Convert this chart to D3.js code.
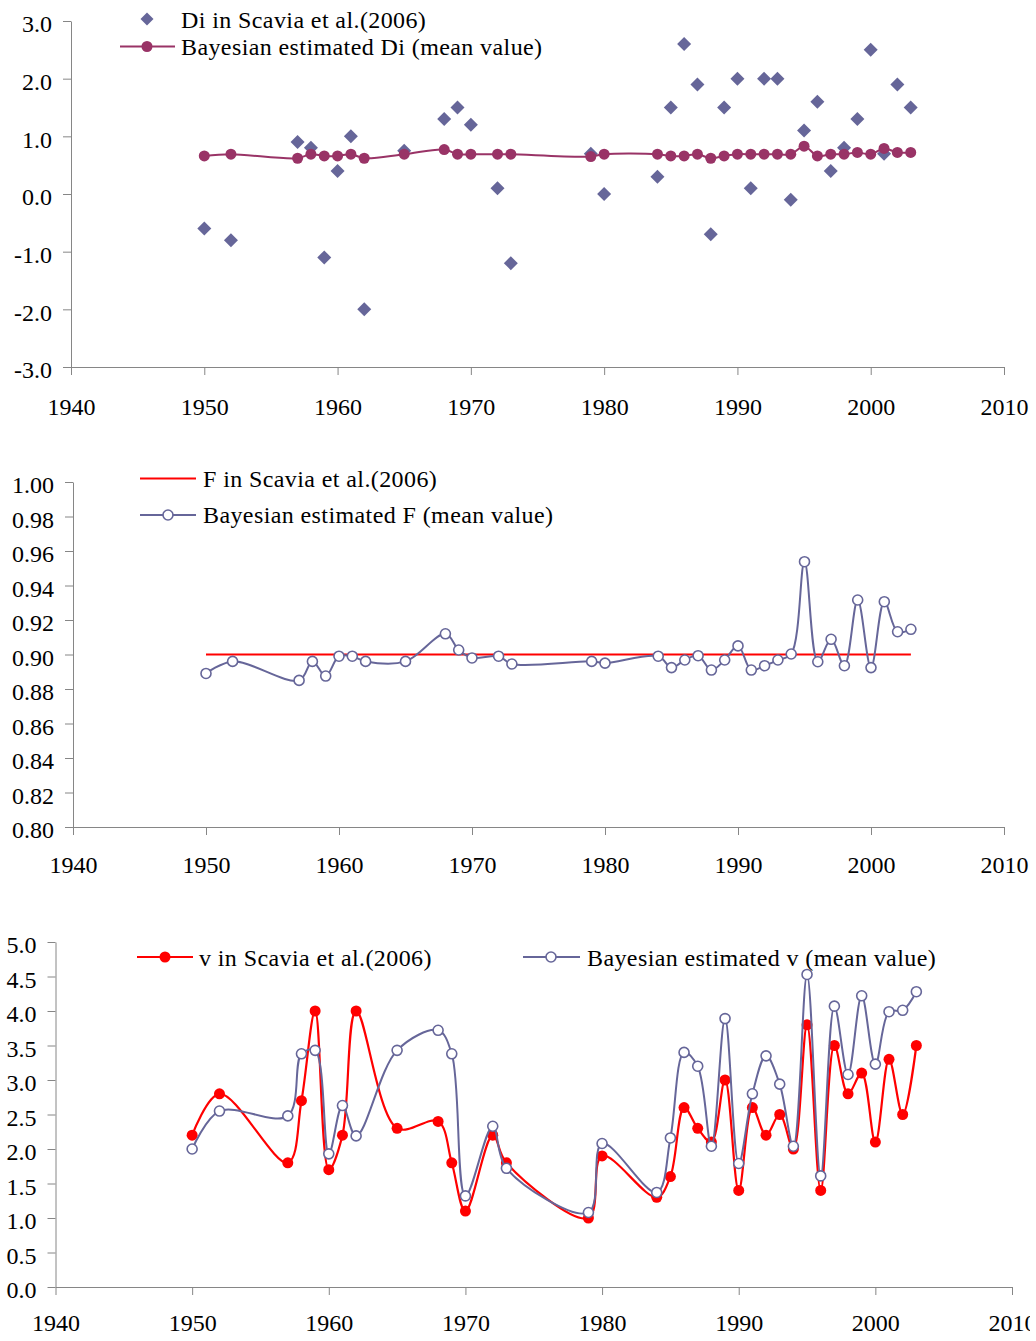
<!DOCTYPE html>
<html>
<head>
<meta charset="utf-8">
<script src="https://cdn.jsdelivr.net/npm/d3@7"></script>
<style>
  body { margin: 0; background: #fff; }
  svg { display: block; font-family: "Liberation Serif", "Times New Roman", serif; }
</style>
</head>
<body>
<div id="chart"></div>
<script>
// years with observations (shared by all three panels)
const years = [1950, 1952, 1957, 1958, 1959, 1960, 1961, 1962, 1965, 1968, 1969, 1970, 1972, 1973,
  1979, 1980, 1984, 1985, 1986, 1987, 1988, 1989, 1990, 1991, 1992, 1993, 1994, 1995, 1996,
  1997, 1998, 1999, 2000, 2001, 2002, 2003];

// panel 1 : Di
const diScavia = [-0.6, -0.8, 0.9, 0.8, -1.1, 0.4, 1.0, -2.0, 0.75, 1.3, 1.5, 1.2, 0.1, -1.2,
  0.7, 0.0, 0.3, 1.5, 2.6, 1.9, -0.7, 1.5, 2.0, 0.1, 2.0, 2.0, -0.1, 1.1, 1.6,
  0.4, 0.8, 1.3, 2.5, 0.7, 1.9, 1.5];
const diBayes = [0.66, 0.69, 0.62, 0.69, 0.66, 0.66, 0.69, 0.62, 0.69, 0.77, 0.69, 0.69, 0.69, 0.69,
  0.65, 0.69, 0.69, 0.66, 0.66, 0.69, 0.62, 0.66, 0.69, 0.69, 0.69, 0.69, 0.69, 0.83, 0.66,
  0.69, 0.69, 0.72, 0.69, 0.79, 0.72, 0.72];

// panel 2 : F
const fScavia = [0.90, 0.90, 0.90, 0.90, 0.90, 0.90, 0.90, 0.90, 0.90, 0.90, 0.90, 0.90, 0.90, 0.90,
  0.90, 0.90, 0.90, 0.90, 0.90, 0.90, 0.90, 0.90, 0.90, 0.90, 0.90, 0.90, 0.90, 0.90, 0.90,
  0.90, 0.90, 0.90, 0.90, 0.90, 0.90, 0.90];
const fBayes = [0.889, 0.896, 0.885, 0.896, 0.8875, 0.899, 0.899, 0.896, 0.896, 0.912, 0.9026, 0.898, 0.899, 0.8945,
  0.896, 0.895, 0.899, 0.8924, 0.8968, 0.8993, 0.891, 0.8968, 0.905, 0.891, 0.8935, 0.8968, 0.9003, 0.9538, 0.8958,
  0.9088, 0.8935, 0.9316, 0.8924, 0.9306, 0.9132, 0.9146];

// panel 3 : v
const vScavia = [2.2, 2.8, 1.8, 2.7, 4.0, 1.7, 2.2, 4.0, 2.3, 2.4, 1.8, 1.1, 2.2, 1.8,
  1.0, 1.9, 1.3, 1.6, 2.6, 2.3, 2.1, 3.0, 1.4, 2.6, 2.2, 2.5, 2.0, 3.8, 1.4,
  3.5, 2.8, 3.1, 2.1, 3.3, 2.5, 3.5];
const vBayes = [2.0, 2.55, 2.48, 3.38, 3.43, 1.93, 2.63, 2.19, 3.43, 3.72, 3.38, 1.32, 2.33, 1.72,
  1.08, 2.08, 1.37, 2.16, 3.4, 3.2, 2.04, 3.89, 1.79, 2.8, 3.35, 2.94, 2.04, 4.53, 1.61,
  4.07, 3.08, 4.22, 3.23, 3.99, 4.01, 4.28];

// tick labels
const xTicks = [1940, 1950, 1960, 1970, 1980, 1990, 2000, 2010];
const diTicks = [-3, -2, -1, 0, 1, 2, 3];
const fTicks = [0.80, 0.82, 0.84, 0.86, 0.88, 0.90, 0.92, 0.94, 0.96, 0.98, 1.00];
const vTicks = [0, 0.5, 1, 1.5, 2, 2.5, 3, 3.5, 4, 4.5, 5];

const width = 1036, height = 1341;
const axisColor = "#868686";
const slate = "#666699", plum = "#993366", red = "#ff0000";
const fontSize = 24;

const svg = d3.select("#chart").append("svg")
  .attr("width", width)
  .attr("height", height);

svg.append("defs").append("clipPath").attr("id", "page-clip")
  .append("rect").attr("x", 0).attr("y", 0).attr("width", 1030).attr("height", height);

function drawAxes(g, x, y, yTicks, yFmt, yBottom, xPad) {
  const xAxis = d3.axisBottom(x).tickValues(xTicks).tickFormat(d3.format("d"))
    .tickSize(8).tickSizeOuter(0).tickPadding(xPad);
  const yAxis = d3.axisLeft(y).tickValues(yTicks).tickFormat(yFmt)
    .tickSize(8).tickSizeOuter(0).tickPadding(11);

  const gx = g.append("g")
    .attr("transform", "translate(0," + yBottom + ")")
    .attr("clip-path", "url(#page-clip)")
    .call(xAxis);
  const gy = g.append("g")
    .attr("transform", "translate(" + x.range()[0] + ",0)")
    .call(yAxis);

  [gx, gy].forEach(function(a) {
    a.select(".domain").attr("stroke", axisColor);
    a.selectAll(".tick line").attr("stroke", axisColor);
    a.selectAll("text")
      .attr("fill", "#000")
      .attr("font-family", "Liberation Serif, Times New Roman, serif")
      .attr("font-size", fontSize);
  });
  gy.selectAll("text").attr("dy", "0.45em");
}

function pts(vals) {
  return years.map(function(yr, i) { return [yr, vals[i]]; });
}

const smooth = d3.curveCatmullRom.alpha(0.5);

function legendText(g, x, y, label) {
  g.append("text")
    .attr("x", x).attr("y", y)
    .attr("font-size", fontSize)
    .attr("letter-spacing", "0.4px")
    .text(label);
}

function diamond(g, cx, cy, r, color) {
  g.append("path")
    .attr("d", "M" + cx + "," + (cy - r) + "L" + (cx + r) + "," + cy + "L" + cx + "," + (cy + r) + "L" + (cx - r) + "," + cy + "Z")
    .attr("fill", color);
}

// ---------------- panel 1 ----------------
(function() {
  const x = d3.scaleLinear().domain([1940, 2010]).range([71, 1004]);
  const y = d3.scaleLinear().domain([-3, 3]).range([367, 21]);
  const g = svg.append("g");
  drawAxes(g, x, y, diTicks, function(d) { return d.toFixed(1); }, y(-3), 23);

  const line = d3.line().x(function(d) { return x(d[0]); }).y(function(d) { return y(d[1]); }).curve(smooth);

  pts(diScavia).forEach(function(d) { diamond(g, x(d[0]), y(d[1]), 7, slate); });

  g.append("path")
    .attr("d", line(pts(diBayes)))
    .attr("fill", "none")
    .attr("stroke", plum)
    .attr("stroke-width", 2);
  g.append("g").selectAll("circle")
    .data(pts(diBayes))
    .enter()
    .append("circle")
    .attr("cx", function(d) { return x(d[0]); })
    .attr("cy", function(d) { return y(d[1]); })
    .attr("r", 5.5)
    .attr("fill", plum);

  // legend
  diamond(g, 147, 19, 6.5, slate);
  legendText(g, 181, 27.5, "Di in Scavia et al.(2006)");
  g.append("line").attr("x1", 120).attr("x2", 175).attr("y1", 46.5).attr("y2", 46.5)
    .attr("stroke", plum).attr("stroke-width", 2);
  g.append("circle").attr("cx", 147).attr("cy", 46.5).attr("r", 5.5).attr("fill", plum);
  legendText(g, 181, 55, "Bayesian estimated Di (mean value)");
})();

// ---------------- panel 2 ----------------
(function() {
  const x = d3.scaleLinear().domain([1940, 2010]).range([73, 1004]);
  const y = d3.scaleLinear().domain([0.80, 1.00]).range([827, 482]);
  const g = svg.append("g");
  drawAxes(g, x, y, fTicks, function(d) { return d.toFixed(2); }, y(0.80), 21);

  const line = d3.line().x(function(d) { return x(d[0]); }).y(function(d) { return y(d[1]); }).curve(smooth);

  g.append("path")
    .attr("d", line(pts(fScavia)))
    .attr("fill", "none")
    .attr("stroke", red)
    .attr("stroke-width", 2);

  g.append("path")
    .attr("d", line(pts(fBayes)))
    .attr("fill", "none")
    .attr("stroke", slate)
    .attr("stroke-width", 2);
  g.append("g").selectAll("circle")
    .data(pts(fBayes))
    .enter()
    .append("circle")
    .attr("cx", function(d) { return x(d[0]); })
    .attr("cy", function(d) { return y(d[1]); })
    .attr("r", 5)
    .attr("fill", "#fff")
    .attr("stroke", slate)
    .attr("stroke-width", 1.6);

  // legend
  g.append("line").attr("x1", 140).attr("x2", 196).attr("y1", 478.5).attr("y2", 478.5)
    .attr("stroke", red).attr("stroke-width", 2);
  legendText(g, 203, 487, "F in Scavia et al.(2006)");
  g.append("line").attr("x1", 140).attr("x2", 196).attr("y1", 515).attr("y2", 515)
    .attr("stroke", slate).attr("stroke-width", 2);
  g.append("circle").attr("cx", 168).attr("cy", 515).attr("r", 5)
    .attr("fill", "#fff").attr("stroke", slate).attr("stroke-width", 1.6);
  legendText(g, 203, 523, "Bayesian estimated F (mean value)");
})();

// ---------------- panel 3 ----------------
(function() {
  const x = d3.scaleLinear().domain([1940, 2010]).range([55.5, 1012]);
  const y = d3.scaleLinear().domain([0, 5]).range([1287, 942]);
  const g = svg.append("g");
  drawAxes(g, x, y, vTicks, function(d) { return d.toFixed(1); }, y(0), 19);

  const line = d3.line().x(function(d) { return x(d[0]); }).y(function(d) { return y(d[1]); }).curve(smooth);

  g.append("path")
    .attr("d", line(pts(vScavia)))
    .attr("fill", "none")
    .attr("stroke", red)
    .attr("stroke-width", 2.2);
  g.append("g").selectAll("circle")
    .data(pts(vScavia))
    .enter()
    .append("circle")
    .attr("cx", function(d) { return x(d[0]); })
    .attr("cy", function(d) { return y(d[1]); })
    .attr("r", 5.5)
    .attr("fill", red);

  g.append("path")
    .attr("d", line(pts(vBayes)))
    .attr("fill", "none")
    .attr("stroke", slate)
    .attr("stroke-width", 2);
  g.append("g").selectAll("circle")
    .data(pts(vBayes))
    .enter()
    .append("circle")
    .attr("cx", function(d) { return x(d[0]); })
    .attr("cy", function(d) { return y(d[1]); })
    .attr("r", 5)
    .attr("fill", "#fff")
    .attr("stroke", slate)
    .attr("stroke-width", 1.6);

  // legend
  g.append("line").attr("x1", 137).attr("x2", 193).attr("y1", 957).attr("y2", 957)
    .attr("stroke", red).attr("stroke-width", 2.2);
  g.append("circle").attr("cx", 165).attr("cy", 957).attr("r", 5.5).attr("fill", red);
  legendText(g, 199, 965.5, "v in Scavia et al.(2006)");
  g.append("line").attr("x1", 523).attr("x2", 580).attr("y1", 957).attr("y2", 957)
    .attr("stroke", slate).attr("stroke-width", 2);
  g.append("circle").attr("cx", 551).attr("cy", 957).attr("r", 5)
    .attr("fill", "#fff").attr("stroke", slate).attr("stroke-width", 1.6);
  legendText(g, 587, 965.5, "Bayesian estimated v (mean value)");
})();
</script>
</body>
</html>
